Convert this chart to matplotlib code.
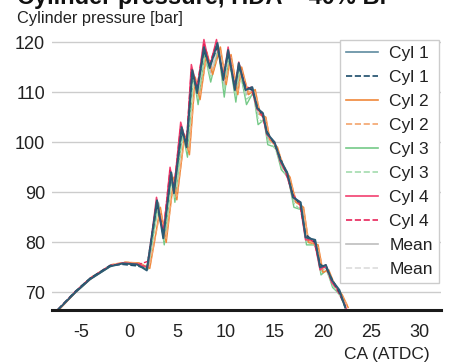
import matplotlib
matplotlib.use("Agg")
import matplotlib.pyplot as plt
from matplotlib.lines import Line2D

plt.rcParams['font.family'] = ['Liberation Sans', 'DejaVu Sans']

# crank angle / pressure readings per cylinder (turning points of the trace)
ca_cyl1 = [-7.4, -5.6, -4.1, -2.0, -0.7, 0.8, 1.8, 2.85, 3.5, 4.3, 4.6, 5.4, 5.9, 6.5, 7.0, 7.7, 8.3, 9.1, 9.7, 10.2,
           10.9, 11.3, 12.0, 12.7, 13.2, 13.8, 14.2, 15.0, 15.6, 16.3, 16.9, 17.7, 18.2, 19.2, 19.7, 20.3, 20.9, 21.7, 22.3]
p_cyl1 = [66.5, 70.0, 72.6, 75.2, 75.8, 75.6, 74.4, 88.4, 80.8, 94.0, 89.8, 103.0, 99.0, 114.4, 109.8, 119.0, 114.8, 119.8, 112.4, 118.4,
          110.4, 115.8, 110.4, 111.0, 106.8, 105.8, 101.8, 100.0, 96.4, 94.0, 89.0, 88.0, 81.0, 80.5, 75.0, 75.5, 72.5, 70.5, 67.0]
p_cyl1_dash = [66.6, 70.2, 72.8, 75.4, 75.6, 75.3, 74.8, 87.6, 81.5, 93.2, 90.5, 102.0, 99.8, 113.5, 110.5, 118.2, 115.2, 119.0, 113.0, 117.6,
               111.0, 115.2, 111.0, 110.4, 107.2, 105.2, 102.2, 99.6, 96.8, 93.6, 89.4, 87.4, 81.6, 80.0, 75.6, 75.0, 72.8, 70.0, 67.2]

ca_cyl2 = [-7.2, -5.4, -3.9, -1.8, -0.4, 1.0, 2.1, 3.2, 3.8, 4.6, 4.9, 5.7, 6.2, 6.8, 7.3, 8.0, 8.6, 9.4, 10.0, 10.5,
           11.2, 11.6, 12.3, 13.0, 13.5, 14.1, 14.5, 15.3, 15.9, 16.6, 17.2, 18.0, 18.5, 19.5, 20.0, 20.6, 21.2, 22.0, 22.6]
p_cyl2 = [66.7, 70.4, 73.0, 75.5, 76.0, 75.9, 74.8, 87.0, 80.0, 93.0, 88.5, 101.5, 97.5, 113.0, 108.5, 118.0, 113.5, 119.0, 111.5, 117.5,
          109.5, 115.0, 109.5, 110.5, 105.5, 105.0, 100.5, 99.0, 95.0, 93.0, 88.0, 87.0, 80.0, 79.5, 74.0, 74.5, 71.5, 69.5, 67.0]
p_cyl2_dash = [66.8, 70.5, 73.1, 75.6, 76.1, 75.8, 75.2, 86.4, 80.8, 92.4, 89.2, 101.0, 98.4, 112.4, 109.4, 117.4, 114.2, 118.4, 112.2, 117.0,
               110.2, 114.4, 110.0, 110.0, 106.0, 104.6, 101.0, 98.6, 95.6, 92.6, 88.6, 86.6, 80.6, 79.0, 74.6, 74.2, 71.8, 69.2, 67.2]

ca_cyl3 = [-7.3, -5.5, -4.0, -1.9, -0.6, 0.9, 1.9, 3.0, 3.6, 4.4, 4.7, 5.5, 6.0, 6.6, 7.1, 7.8, 8.4, 9.2, 9.8, 10.3,
           11.0, 11.4, 12.1, 12.8, 13.3, 13.9, 14.3, 15.1, 15.7, 16.4, 17.0, 17.8, 18.3, 19.3, 19.8, 20.4, 21.0, 21.8, 22.3]
p_cyl3 = [66.6, 70.1, 72.7, 75.3, 75.9, 75.5, 74.6, 87.8, 79.5, 93.5, 88.0, 102.0, 97.0, 113.5, 107.5, 117.5, 112.0, 118.5, 109.0, 117.0,
          108.0, 114.5, 107.5, 110.0, 103.5, 104.5, 99.5, 99.0, 94.5, 93.0, 87.0, 86.5, 79.5, 79.5, 73.5, 74.5, 71.0, 69.5, 67.0]
p_cyl3_dash = [66.7, 70.3, 72.9, 75.4, 75.8, 75.4, 75.0, 87.2, 80.4, 92.8, 89.0, 101.4, 98.2, 112.8, 108.8, 116.8, 113.0, 117.8, 110.4, 116.4,
               109.2, 114.0, 108.6, 109.6, 104.6, 104.0, 100.4, 98.6, 95.2, 92.6, 87.8, 86.2, 80.2, 79.2, 74.2, 74.2, 71.4, 69.2, 67.1]

ca_cyl4 = [-7.4, -5.6, -4.1, -2.0, -0.7, 0.8, 1.9, 2.8, 3.5, 4.2, 4.6, 5.3, 5.9, 6.4, 7.0, 7.7, 8.3, 9.0, 9.7, 10.2,
           10.9, 11.3, 12.0, 12.6, 13.2, 13.7, 14.2, 15.0, 15.6, 16.2, 16.9, 17.6, 18.2, 19.1, 19.7, 20.3, 20.9, 21.6, 22.4]
p_cyl4 = [66.5, 70.0, 72.6, 75.3, 75.9, 75.7, 75.0, 89.0, 81.5, 95.0, 90.5, 104.0, 99.5, 115.5, 110.5, 120.5, 115.0, 120.5, 112.5, 119.0,
          110.5, 116.0, 110.5, 111.0, 106.5, 106.0, 101.5, 100.0, 96.0, 94.0, 89.0, 88.0, 80.5, 80.5, 74.5, 75.5, 72.0, 70.5, 66.8]
p_cyl4_dash = [66.6, 70.2, 72.8, 75.4, 75.7, 75.5, 76.2, 88.2, 82.2, 94.4, 91.0, 103.2, 100.2, 114.6, 111.2, 119.6, 115.6, 119.8, 113.4, 118.2,
               111.2, 115.4, 111.2, 110.6, 107.0, 105.4, 102.0, 99.6, 96.6, 93.6, 89.6, 87.6, 81.2, 80.0, 75.2, 75.0, 72.4, 70.0, 67.0]

ca_mean = ca_cyl3
p_mean = [66.6, 70.2, 72.7, 75.3, 75.9, 75.7, 74.7, 88.0, 80.4, 93.9, 89.2, 102.6, 98.3, 114.1, 109.1, 118.8, 113.8, 119.2, 111.4, 118.0,
          109.6, 115.3, 109.5, 110.6, 105.6, 105.3, 100.8, 99.5, 95.5, 93.5, 88.3, 87.4, 80.3, 80.0, 74.3, 75.0, 71.8, 70.0, 67.0]
p_mean_dash = [66.7, 70.3, 72.9, 75.4, 75.8, 75.5, 75.3, 87.4, 81.2, 93.2, 89.9, 101.9, 99.2, 113.3, 110.0, 118.0, 114.5, 118.8, 112.3, 117.3,
               110.4, 114.8, 110.2, 110.2, 106.2, 104.8, 101.4, 99.1, 96.1, 93.1, 88.9, 87.0, 80.9, 79.6, 74.9, 74.6, 72.1, 69.6, 67.1]

xticks = [-5, 0, 5, 10, 15, 20, 25, 30]
yticks = [70, 80, 90, 100, 110, 120]

fig = plt.figure(figsize=(4.54, 3.63), dpi=100)
ax = fig.add_axes([52 / 454, 53 / 363, 389 / 454, 278 / 363])

series = [
    (ca_mean, p_mean, '#bdbdbd', '-', 1.0, 1, 'Mean'),
    (ca_mean, p_mean_dash, '#dcdcdc', '--', 1.0, 1, 'Mean'),
    (ca_cyl3, p_cyl3, '#74c987', '-', 1.0, 2, 'Cyl 3'),
    (ca_cyl3, p_cyl3_dash, '#a3dcae', '--', 1.0, 2, 'Cyl 3'),
    (ca_cyl2, p_cyl2, '#f0873a', '-', 1.1, 3, 'Cyl 2'),
    (ca_cyl2, p_cyl2_dash, '#f4a46c', '--', 1.0, 3, 'Cyl 2'),
    (ca_cyl4, p_cyl4, '#f2406f', '-', 1.1, 4, 'Cyl 4'),
    (ca_cyl4, p_cyl4_dash, '#e8245a', '--', 1.0, 4, 'Cyl 4'),
    (ca_cyl1, p_cyl1_dash, '#1b4c6a', '--', 1.1, 5, 'Cyl 1'),
    (ca_cyl1, p_cyl1, '#2c5b74', '-', 1.4, 6, 'Cyl 1'),
]
for x, y, c, ls, lw, z, lab in series:
    ax.plot(x, y, color=c, ls=ls, lw=lw, zorder=z)

ax.set_xlim(-8.0, 32.2)
ax.set_ylim(66.5, 122)
ax.set_xticks(xticks)
ax.set_yticks(yticks)
ax.set_xticklabels([str(t) for t in xticks])
ax.tick_params(axis='both', length=0, labelsize=13, colors='#222222')
ax.tick_params(axis='y', pad=5)
ax.tick_params(axis='x', pad=10)
ax.grid(axis='y', color='#cccccc', lw=1)
ax.set_axisbelow(True)
for s in ['top', 'right', 'left']:
    ax.spines[s].set_visible(False)
ax.spines['bottom'].set_color('#1a1a1a')
ax.spines['bottom'].set_linewidth(2.2)
ax.spines['bottom'].set_zorder(10)

# legend in the original order
legend_items = [
    ('#5f8ba0', '-', 'Cyl 1'), ('#1b4c6a', '--', 'Cyl 1'),
    ('#f0873a', '-', 'Cyl 2'), ('#f4a46c', '--', 'Cyl 2'),
    ('#74c987', '-', 'Cyl 3'), ('#a3dcae', '--', 'Cyl 3'),
    ('#f2406f', '-', 'Cyl 4'), ('#e8245a', '--', 'Cyl 4'),
    ('#bdbdbd', '-', 'Mean'), ('#dcdcdc', '--', 'Mean'),
]
handles = [Line2D([], [], color=c, ls=ls, lw=1.2) for c, ls, _ in legend_items]
labels = [lab for _, _, lab in legend_items]
leg = fig.legend(handles, labels, loc='upper right', bbox_to_anchor=(439 / 454, 1 - 40 / 363),
                 bbox_transform=fig.transFigure, borderaxespad=0, fontsize=12.5,
                 frameon=True, fancybox=False, framealpha=1, edgecolor='#cccccc',
                 handlelength=1.85, handletextpad=0.65, labelspacing=0.51, borderpad=0.35)
leg.get_frame().set_linewidth(1.0)
for t in leg.get_texts():
    t.set_color('#222222')

fig.text(17 / 454, 1 - 4 / 363, 'Cylinder pressure, HDA = 40% Bl', fontsize=17, fontweight='bold',
         ha='left', va='baseline', color='#111111')
fig.text(17 / 454, 1 - 22.5 / 363, 'Cylinder pressure [bar]', fontsize=11.8, ha='left', va='baseline', color='#222222')
fig.text(430 / 454, 1 - 359 / 363, 'CA (ATDC)', fontsize=12.5, ha='right', va='baseline', color='#222222')

fig.savefig('out.png', dpi=100)
